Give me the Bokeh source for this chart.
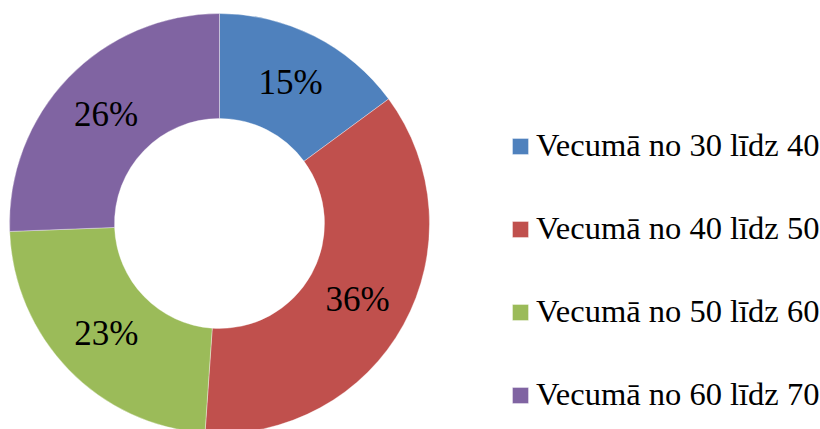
import math
from bokeh.plotting import figure
from bokeh.models import ColumnDataSource, Legend, LegendItem
from bokeh.core.properties import value
from bokeh.embed import file_html
from bokeh.resources import INLINE

categories = ["Vecumā no 30 līdz 40", "Vecumā no 40 līdz 50",
              "Vecumā no 50 līdz 60", "Vecumā no 60 līdz 70"]
shares = [14.9, 36.2, 23.3, 25.6]
colors = ["#4F81BD", "#C0504D", "#9BBB59", "#8064A2"]

FONT = "'Liberation Serif', 'Times New Roman', serif"

W, H = 820, 429
cx, cy = 219, H - 223
r_out, r_in = 210, 105

total = sum(shares)
starts, ends, lx, ly, labels = [], [], [], [], []
cum = 0.0
for s in shares:
    a0 = math.pi / 2 - 2 * math.pi * cum / total
    cum += s
    a1 = math.pi / 2 - 2 * math.pi * cum / total
    starts.append(a0)
    ends.append(a1)
    mid = (a0 + a1) / 2
    rm = (r_out + r_in) / 2
    lx.append(cx + rm * math.cos(mid))
    ly.append(cy + rm * math.sin(mid))
    labels.append(f"{round(s / total * 100)}%")

src = ColumnDataSource(dict(cat=categories, start=starts, end=ends, color=colors,
                            lx=lx, ly=ly, label=labels))

p = figure(width=W, height=H, x_range=(0, W), y_range=(0, H),
           output_backend="svg", toolbar_location=None, min_border=0)
p.axis.visible = False
p.grid.visible = False
p.outline_line_color = None
p.background_fill_color = "white"

rends = []
for i in range(len(categories)):
    r = p.annular_wedge(x=cx, y=cy, inner_radius=r_in, outer_radius=r_out,
                        start_angle=starts[i], end_angle=ends[i], direction="clock",
                        fill_color=colors[i], line_color="white", line_width=0.6,
                        line_alpha=0.6)
    rends.append(r)

p.text(x="lx", y="ly", text="label", source=src, text_font=value(FONT),
       text_font_size="35px", text_align="center", text_baseline="middle",
       text_color="black")

legend = Legend(items=[LegendItem(label=categories[i], renderers=[rends[i]]) for i in range(4)],
                location=(510, 16), orientation="vertical",
                label_text_font=FONT, label_text_font_size="32.5px",
                label_text_color="black", glyph_width=20, glyph_height=20,
                label_standoff=6, spacing=46, padding=0, margin=0,
                border_line_color=None, background_fill_alpha=0)
p.add_layout(legend, "center")

open("out.html", "w").write(file_html(p, INLINE))
